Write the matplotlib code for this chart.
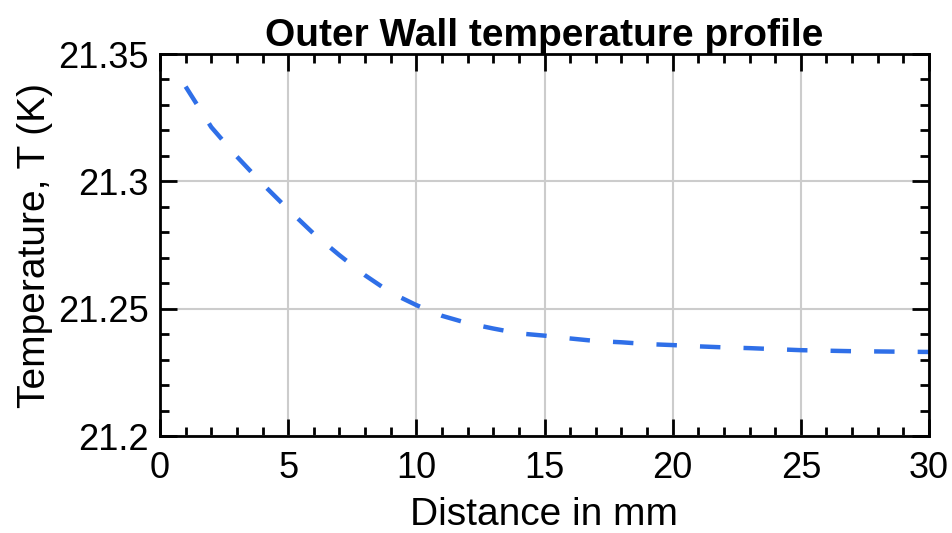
import numpy as np
import matplotlib.pyplot as plt
from matplotlib.ticker import MultipleLocator

# distance along wall (mm) and outer wall temperature (K)
distance_mm = [1, 2, 3, 4, 5, 6, 7, 8, 9, 10, 11, 12, 13, 14, 15, 16, 17, 18, 19, 20,
               21, 22, 23, 24, 25, 26, 27, 28, 29, 30]
temperature_K = [21.3372, 21.3213, 21.3097, 21.2990, 21.2890, 21.2794, 21.2710, 21.2631, 21.2563, 21.2514,
                 21.2472, 21.2443, 21.2422, 21.2403, 21.2394, 21.2383, 21.2373, 21.2368, 21.2361, 21.2357,
                 21.2352, 21.2348, 21.2345, 21.2341, 21.2337, 21.2335, 21.2333, 21.2332, 21.2331, 21.2330]
x_ticks = [0, 5, 10, 15, 20, 25, 30]
y_ticks = [21.2, 21.25, 21.3, 21.35]
y_ticklabels = ['21.2', '21.25', '21.3', '21.35']

plt.rcParams['font.family'] = ['Liberation Sans', 'DejaVu Sans']

fig = plt.figure(figsize=(9.52, 5.33), dpi=100)
ax = fig.add_axes([160 / 952, 1 - 436 / 533, 769 / 952, 382 / 533])

ax.plot(distance_mm, temperature_K, color='#2f6fe8', lw=3.2, dashes=(4.6, 5.2))

ax.set_xlim(0, 30)
ax.set_ylim(21.2, 21.35)
ax.set_xticks(x_ticks)
ax.set_yticks(y_ticks)
ax.set_yticklabels(y_ticklabels)
ax.xaxis.set_minor_locator(MultipleLocator(1))
ax.yaxis.set_minor_locator(MultipleLocator(0.01))
ax.grid(True, which='major', color='#cccccc', lw=1.5)
ax.tick_params(which='both', direction='in', top=True, right=True, labelsize=26, width=2)
ax.tick_params(which='major', length=12, pad=8)
ax.tick_params(axis='x', which='major', pad=11)
ax.tick_params(which='minor', length=6.5)
for s in ax.spines.values():
    s.set_linewidth(2)

ax.set_xlabel('Distance in mm', fontsize=28, labelpad=8)
ax.set_ylabel('Temperature, T (K)', fontsize=28, labelpad=4)
ax.set_title('Outer Wall temperature profile', fontsize=28, fontweight='bold', pad=6)

fig.savefig('out.png', dpi=100)
